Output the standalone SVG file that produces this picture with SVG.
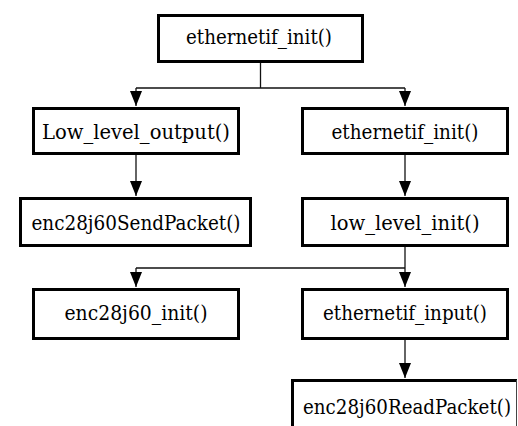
<svg xmlns="http://www.w3.org/2000/svg" width="518" height="426" viewBox="0 0 518 426">
<style>
.box{fill:#fff;stroke:#000;stroke-width:3}
.lbl{font-family:'DejaVu Serif','Liberation Serif',serif;font-size:20px;fill:#000;text-anchor:middle}
.con{fill:none;stroke:#111;stroke-width:1.3}
</style>
<defs>
<marker id="arr" markerWidth="15" markerHeight="12" refX="15" refY="6" orient="auto" markerUnits="userSpaceOnUse">
<path d="M0,0 L15,6 L0,12 Z" fill="#000"/>
</marker>
</defs>
<rect width="518" height="426" fill="#fff"/>
<g id="connectors">
<path class="con" d="M260.5,63 V88"/>
<path class="con" d="M136,88 H405"/>
<path class="con" d="M136,88 V106" marker-end="url(#arr)"/>
<path class="con" d="M405,88 V106" marker-end="url(#arr)"/>
<path class="con" d="M136,155 V196" marker-end="url(#arr)"/>
<path class="con" d="M405,155 V196" marker-end="url(#arr)"/>
<path class="con" d="M405,247 V268"/>
<path class="con" d="M136,268 H405"/>
<path class="con" d="M136,268 V287" marker-end="url(#arr)"/>
<path class="con" d="M405,268 V287" marker-end="url(#arr)"/>
<path class="con" d="M405,340 V378" marker-end="url(#arr)"/>
</g>
<g id="n_top">
<rect class="box" x="158.5" y="15.5" width="204" height="46"/>
<text class="lbl" x="259" y="44" textLength="146" lengthAdjust="spacingAndGlyphs">ethernetif_init()</text>
</g>
<g id="n_low_level_output">
<rect class="box" x="33.5" y="108.5" width="205" height="45"/>
<text class="lbl" x="136" y="139" textLength="188" lengthAdjust="spacingAndGlyphs">Low_level_output()</text>
</g>
<g id="n_ethernetif_init">
<rect class="box" x="302.5" y="108.5" width="205" height="45"/>
<text class="lbl" x="405" y="139" textLength="147" lengthAdjust="spacingAndGlyphs">ethernetif_init()</text>
</g>
<g id="n_send">
<rect class="box" x="20.5" y="198.5" width="230" height="47"/>
<text class="lbl" x="136" y="230" textLength="209" lengthAdjust="spacingAndGlyphs">enc28j60SendPacket()</text>
</g>
<g id="n_low_level_init">
<rect class="box" x="302.5" y="198.5" width="205" height="47"/>
<text class="lbl" x="405" y="230" textLength="149" lengthAdjust="spacingAndGlyphs">low_level_init()</text>
</g>
<g id="n_enc_init">
<rect class="box" x="33.5" y="289.5" width="205" height="49"/>
<text class="lbl" x="136" y="320" textLength="143" lengthAdjust="spacingAndGlyphs">enc28j60_init()</text>
</g>
<g id="n_input">
<rect class="box" x="302.5" y="289.5" width="205" height="49"/>
<text class="lbl" x="405" y="320" textLength="164" lengthAdjust="spacingAndGlyphs">ethernetif_input()</text>
</g>
<g id="n_read">
<rect x="292" y="380" width="225" height="60" fill="#fff"/>
<path d="M292.5,430 V380.5 H517" fill="none" stroke="#000" stroke-width="3"/>
<path d="M516.5,380 V430" fill="none" stroke="#444" stroke-width="1"/>
<text class="lbl" x="407" y="414" textLength="208" lengthAdjust="spacingAndGlyphs">enc28j60ReadPacket()</text>
</g>
</svg>
